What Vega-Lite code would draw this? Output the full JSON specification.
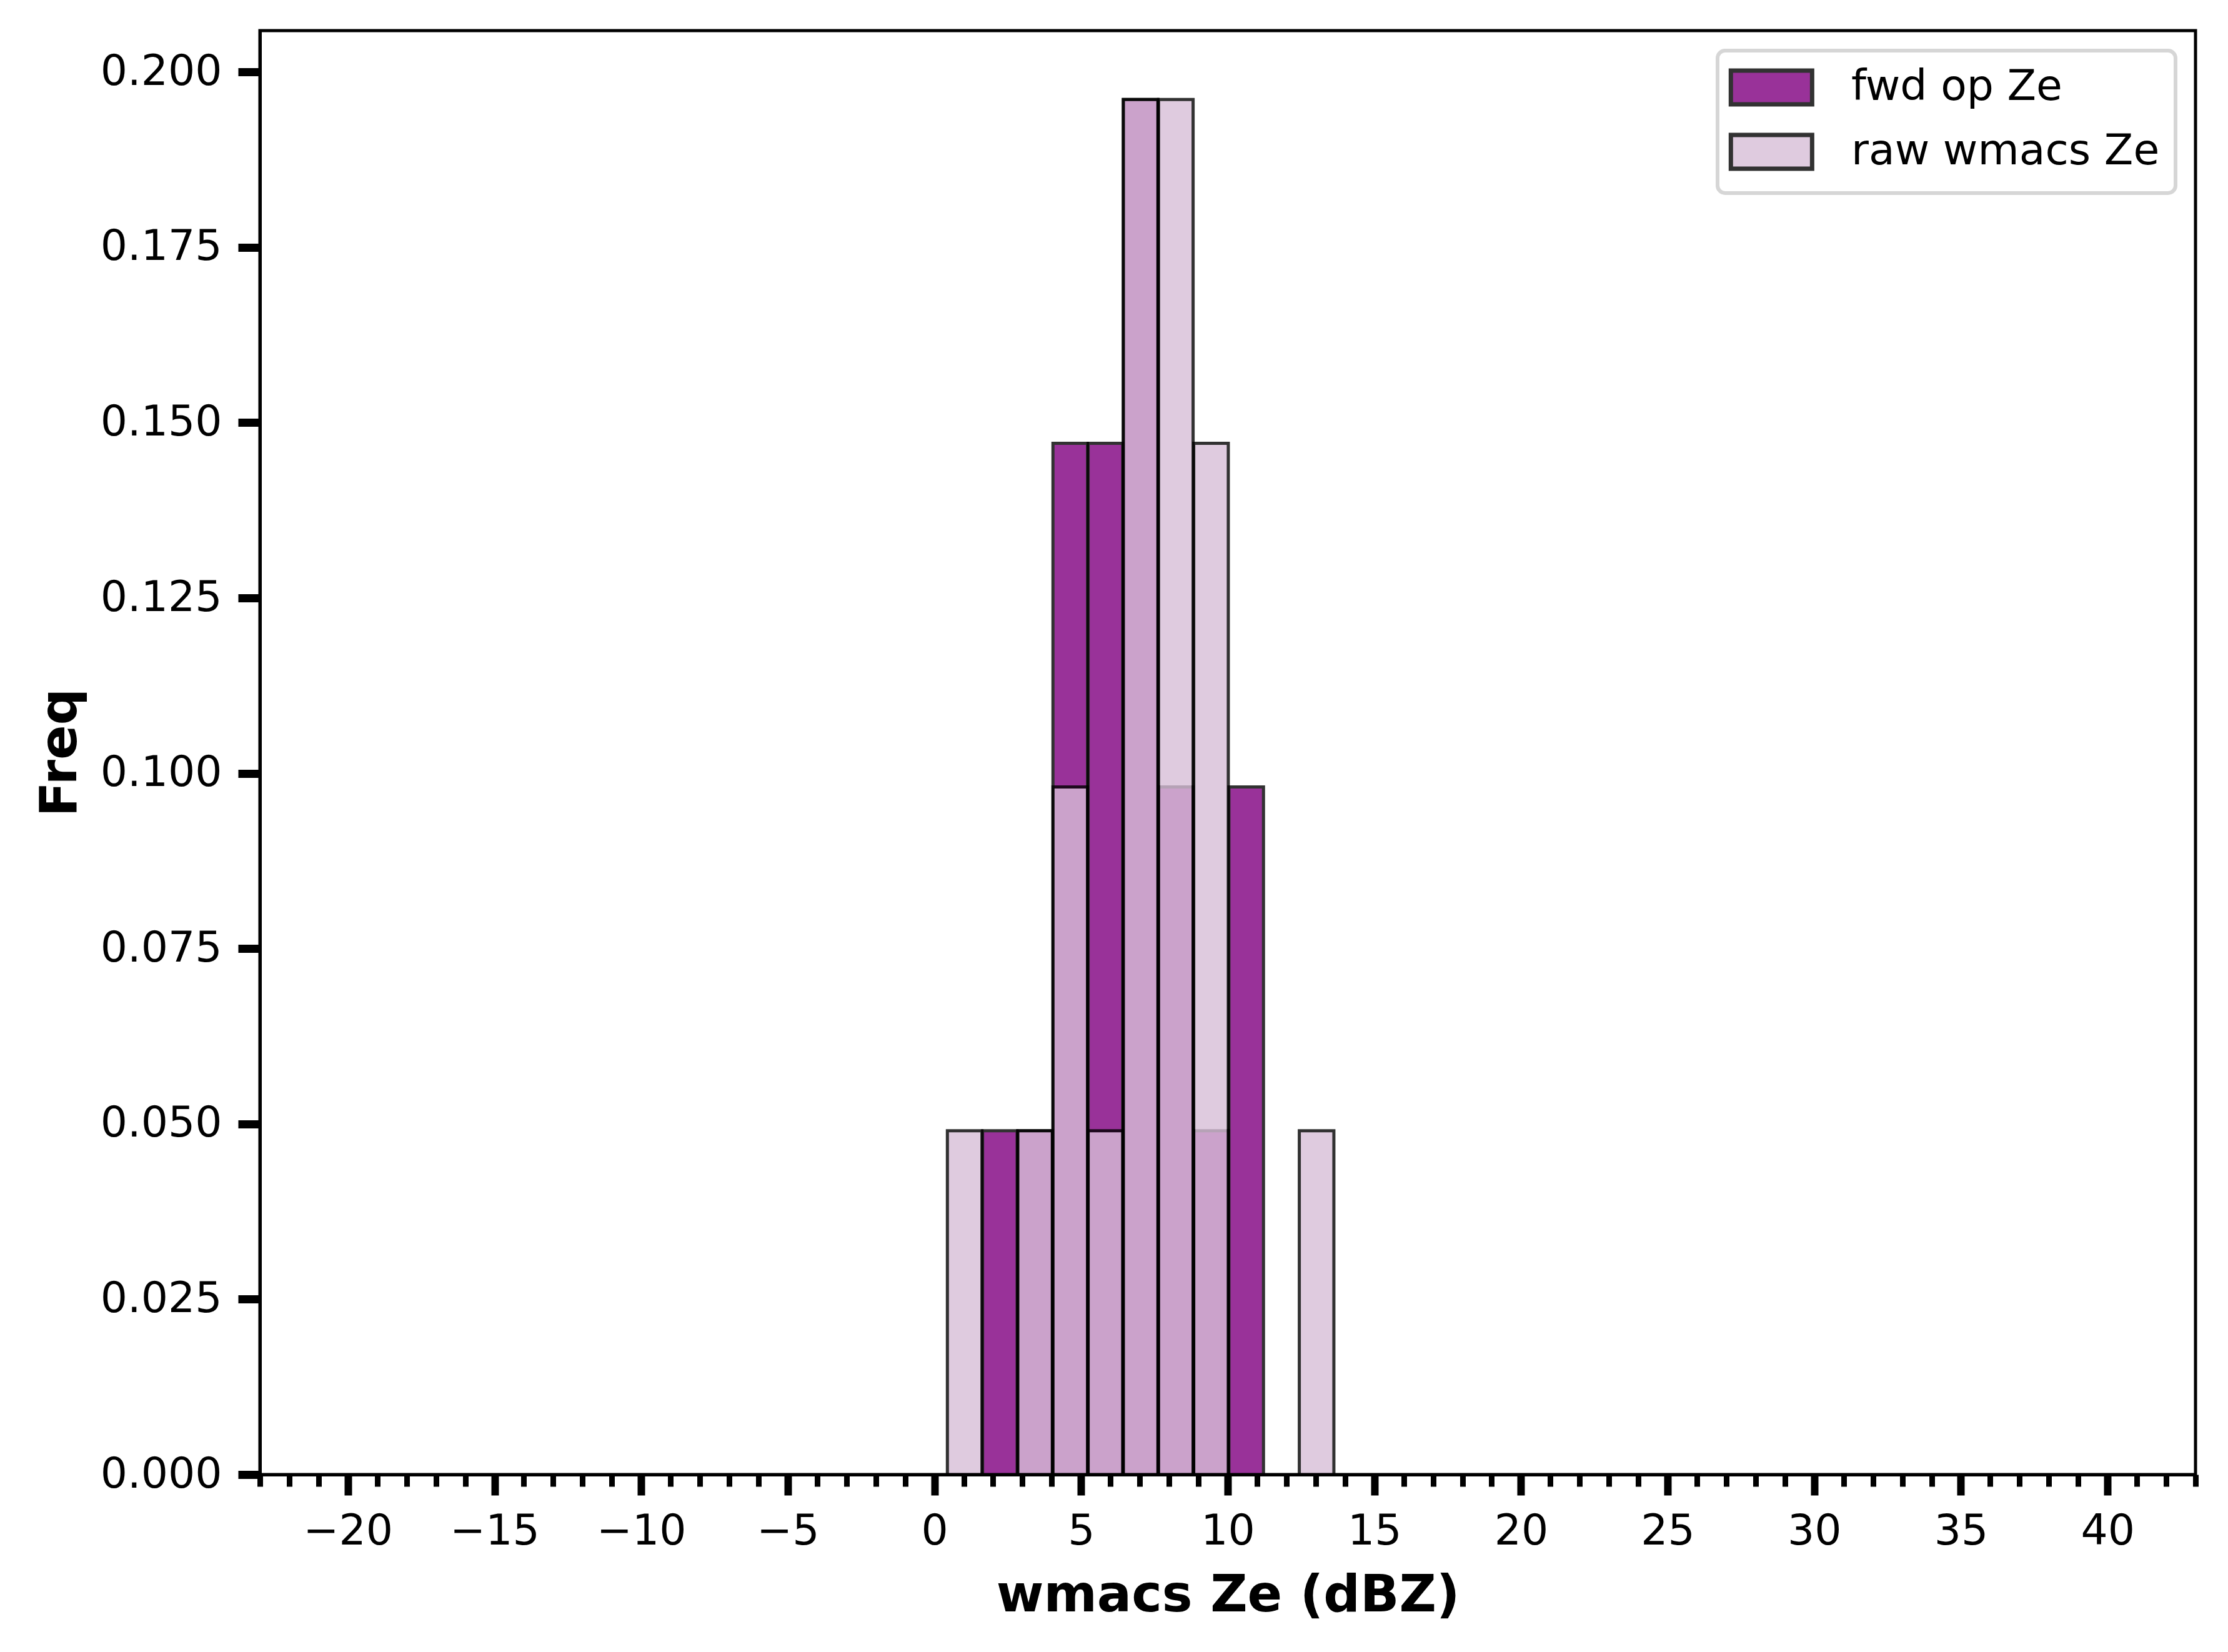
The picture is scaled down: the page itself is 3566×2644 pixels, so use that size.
{
  "$schema": "https://vega.github.io/schema/vega-lite/v6.json",
  "width": 3098,
  "height": 2311,
  "autosize": {"type": "none"},
  "padding": {"left": 416, "top": 49, "right": 52, "bottom": 284},
  "background": "white",
  "config": {
    "font": "DejaVu Sans",
    "view": {"stroke": "black", "strokeWidth": 5},
    "axis": {
      "domainColor": "black",
      "domainWidth": 5,
      "tickColor": "black",
      "labelColor": "black",
      "titleColor": "black",
      "labelFont": "DejaVu Sans",
      "titleFont": "DejaVu Sans",
      "labelFontSize": 68,
      "titleFontSize": 82,
      "titleFontWeight": "bold",
      "labelLimit": 0,
      "grid": false
    },
    "legend": {"strokeWidth": 6}
  },
  "data": {
    "values": [
      {"bin_start": 1.62, "bin_end": 2.82, "freq": 0.04902, "series": "fwd op Ze"},
      {"bin_start": 2.82, "bin_end": 4.02, "freq": 0.04902, "series": "fwd op Ze"},
      {"bin_start": 4.02, "bin_end": 5.22, "freq": 0.14706, "series": "fwd op Ze"},
      {"bin_start": 5.22, "bin_end": 6.42, "freq": 0.14706, "series": "fwd op Ze"},
      {"bin_start": 6.42, "bin_end": 7.62, "freq": 0.19608, "series": "fwd op Ze"},
      {"bin_start": 7.62, "bin_end": 8.82, "freq": 0.09804, "series": "fwd op Ze"},
      {"bin_start": 8.82, "bin_end": 10.02, "freq": 0.04902, "series": "fwd op Ze"},
      {"bin_start": 10.02, "bin_end": 11.22, "freq": 0.09804, "series": "fwd op Ze"},
      {"bin_start": 0.42, "bin_end": 1.62, "freq": 0.04902, "series": "raw wmacs Ze"},
      {"bin_start": 2.82, "bin_end": 4.02, "freq": 0.04902, "series": "raw wmacs Ze"},
      {"bin_start": 4.02, "bin_end": 5.22, "freq": 0.09804, "series": "raw wmacs Ze"},
      {"bin_start": 5.22, "bin_end": 6.42, "freq": 0.04902, "series": "raw wmacs Ze"},
      {"bin_start": 6.42, "bin_end": 7.62, "freq": 0.19608, "series": "raw wmacs Ze"},
      {"bin_start": 7.62, "bin_end": 8.82, "freq": 0.19608, "series": "raw wmacs Ze"},
      {"bin_start": 8.82, "bin_end": 10.02, "freq": 0.14706, "series": "raw wmacs Ze"},
      {"bin_start": 12.42, "bin_end": 13.62, "freq": 0.04902, "series": "raw wmacs Ze"}
    ]
  },
  "mark": {"type": "bar", "opacity": 0.8, "stroke": "black", "strokeWidth": 5},
  "encoding": {
    "x": {
      "field": "bin_start",
      "type": "quantitative",
      "bin": "binned",
      "title": "wmacs Ze (dBZ)",
      "scale": {"domain": [-23, 43], "nice": false, "zero": false},
      "axis": {
        "values": [-23,-22,-21,-20,-19,-18,-17,-16,-15,-14,-13,-12,-11,-10,-9,-8,-7,-6,-5,-4,-3,-2,-1,0,1,2,3,4,5,6,7,8,9,10,11,12,13,14,15,16,17,18,19,20,21,22,23,24,25,26,27,28,29,30,31,32,33,34,35,36,37,38,39,40,41,42,43],
        "format": "d",
        "labelExpr": "datum.value % 5 === 0 ? datum.label : ''",
        "tickSize": {"expr": "datum.value % 5 === 0 ? 33 : 19"},
        "tickWidth": {"expr": "datum.value % 5 === 0 ? 12 : 9"},
        "labelPadding": 24,
        "titlePadding": 28,
        "labelFlush": false,
        "labelOverlap": false
      }
    },
    "x2": {"field": "bin_end"},
    "y": {
      "field": "freq",
      "type": "quantitative",
      "title": "Freq",
      "stack": null,
      "scale": {"domain": [0, 0.2059], "nice": false},
      "axis": {
        "values": [0, 0.025, 0.05, 0.075, 0.1, 0.125, 0.15, 0.175, 0.2],
        "format": ".3f",
        "tickSize": 35,
        "tickWidth": 13,
        "labelPadding": 26,
        "titleX": -278,
        "titleY": 1155,
        "titleBaseline": "bottom",
        "titleAngle": 270,
        "labelFlush": false
      }
    },
    "color": {
      "field": "series",
      "type": "nominal",
      "scale": {"domain": ["fwd op Ze", "raw wmacs Ze"], "range": ["purple", "thistle"]},
      "legend": {
        "title": null,
        "orient": "top-right",
        "offset": 32,
        "padding": 25,
        "strokeColor": "#d6d6d6",
        "cornerRadius": 12,
        "fillColor": "white",
        "symbolType": "M-1.4,-1H3.43V1H-1.4Z",
        "symbolSize": 2900,
        "symbolStrokeColor": "black",
        "symbolStrokeWidth": 7,
        "symbolOpacity": 0.8,
        "labelFontSize": 68,
        "labelFont": "DejaVu Sans",
        "labelColor": "black",
        "labelLimit": 0,
        "labelOffset": 121,
        "rowPadding": 21
      }
    }
  }
}
